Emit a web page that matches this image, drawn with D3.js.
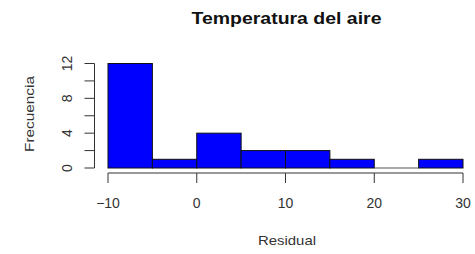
<!DOCTYPE html>
<html>
<head>
<meta charset="utf-8">
<script src="https://cdn.jsdelivr.net/npm/d3@7"></script>
<style>
  body { margin: 0; background: #fff; }
  svg { display: block; font-family: "Liberation Sans", Arial, sans-serif; }
</style>
</head>
<body>
<div id="chart"></div>
<script>
// histogram bins (width 5) and counts
const binStarts = [-10, -5, 0, 5, 10, 15, 20, 25];
const binWidth = 5;
const counts = [12, 1, 4, 2, 2, 1, 0, 1];
const xTicks = [-10, 0, 10, 20, 30];
const yTicks = [0, 2, 4, 6, 8, 10, 12];
const yLabels = [0, 4, 8, 12];

const width = 475, height = 254;

const svg = d3.select("#chart").append("svg")
  .attr("width", width)
  .attr("height", height);

const x = d3.scaleLinear().domain([-10, 30]).range([108, 463]);
const y = d3.scaleLinear().domain([0, 12]).range([168, 63.5]);

const bins = binStarts.map((s, i) => ({start: s, count: counts[i]}));

// bars
svg.selectAll(".bar")
  .data(bins.filter(d => d.count > 0))
  .enter().append("rect")
  .attr("class", "bar")
  .attr("x", d => x(d.start))
  .attr("y", d => y(d.count))
  .attr("width", d => x(d.start + binWidth) - x(d.start))
  .attr("height", d => y(0) - y(d.count))
  .attr("fill", "#0000ff")
  .attr("stroke", "#111")
  .attr("stroke-width", 1);

// empty bins still get their outline on the baseline
svg.selectAll(".empty")
  .data(bins.filter(d => d.count === 0))
  .enter().append("line")
  .attr("class", "empty")
  .attr("x1", d => x(d.start))
  .attr("x2", d => x(d.start + binWidth))
  .attr("y1", y(0)).attr("y2", y(0))
  .attr("stroke", "#555");

// x axis
const xAxis = svg.append("g").attr("transform", "translate(0,173)");
xAxis.append("line")
  .attr("x1", x(-10)).attr("x2", x(30))
  .attr("stroke", "#333");
xAxis.selectAll(".tick")
  .data(xTicks)
  .enter().append("line")
  .attr("x1", d => x(d)).attr("x2", d => x(d))
  .attr("y1", 0).attr("y2", 10)
  .attr("stroke", "#333");
xAxis.selectAll(".lab")
  .data(xTicks)
  .enter().append("text")
  .attr("x", d => x(d))
  .attr("y", 35)
  .attr("text-anchor", "middle")
  .attr("font-size", 14)
  .attr("fill", "#333")
  .text(d => d < 0 ? "\u2212" + Math.abs(d) : d);

// y axis
const yAxis = svg.append("g").attr("transform", "translate(94.5,0)");
yAxis.append("line")
  .attr("y1", y(0)).attr("y2", y(12))
  .attr("stroke", "#333");
yAxis.selectAll(".tick")
  .data(yTicks)
  .enter().append("line")
  .attr("y1", d => y(d)).attr("y2", d => y(d))
  .attr("x1", 0).attr("x2", -10)
  .attr("stroke", "#333");
yAxis.selectAll(".lab")
  .data(yLabels)
  .enter().append("text")
  .attr("transform", d => "translate(-23," + y(d) + ") rotate(-90)")
  .attr("text-anchor", "middle")
  .attr("font-size", 14)
  .attr("fill", "#333")
  .text(d => d);

// titles
svg.append("text")
  .attr("x", 286.5).attr("y", 24)
  .attr("text-anchor", "middle")
  .attr("font-size", 16)
  .attr("font-weight", "bold")
  .attr("textLength", 190)
  .attr("lengthAdjust", "spacingAndGlyphs")
  .attr("fill", "#111")
  .text("Temperatura del aire");

svg.append("text")
  .attr("x", 287).attr("y", 245)
  .attr("text-anchor", "middle")
  .attr("font-size", 13)
  .attr("textLength", 58)
  .attr("lengthAdjust", "spacingAndGlyphs")
  .attr("fill", "#333")
  .text("Residual");

svg.append("text")
  .attr("transform", "translate(33.5,114) rotate(-90)")
  .attr("text-anchor", "middle")
  .attr("font-size", 13)
  .attr("textLength", 76)
  .attr("lengthAdjust", "spacingAndGlyphs")
  .attr("fill", "#333")
  .text("Frecuencia");
</script>
</body>
</html>
